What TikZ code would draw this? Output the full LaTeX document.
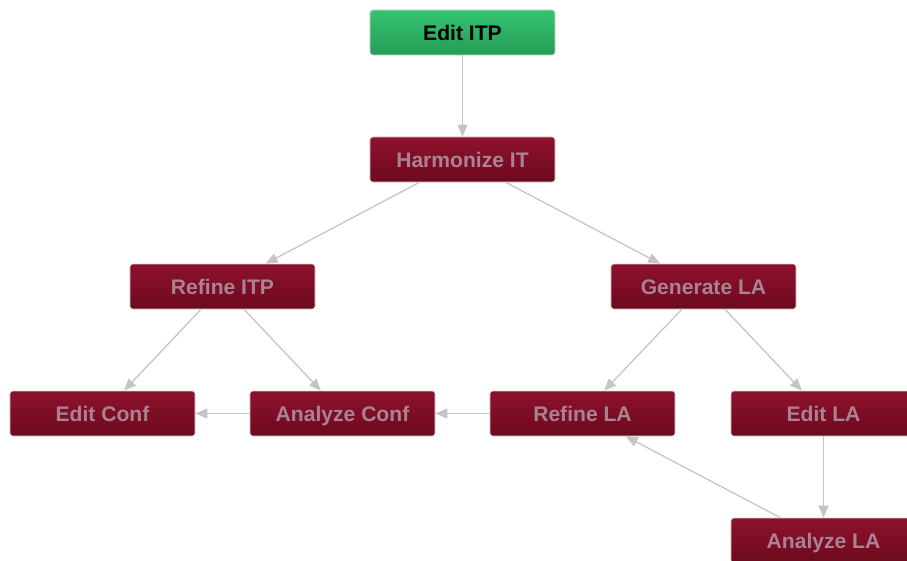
\documentclass[tikz,border=0pt]{standalone}
\usepackage{fontspec}
\setmainfont{Liberation Sans}
\usepackage{tikz}
\usetikzlibrary{arrows.meta}
\definecolor{greentop}{RGB}{52, 196, 112}
\definecolor{greenbot}{RGB}{37, 156, 86}
\definecolor{redtop}{RGB}{142, 17, 44}
\definecolor{redbot}{RGB}{108, 10, 30}
\definecolor{redtext}{RGB}{170, 130, 146}
\definecolor{edge}{RGB}{196, 196, 196}
\definecolor{rim}{RGB}{215, 215, 215}

\begin{document}
\begin{tikzpicture}[x=0.025cm, y=-0.025cm,
    task/.style={draw=rim, line width=0.5, rounded corners=2,
      minimum width=4.625cm, minimum height=1.125cm, inner sep=0,
      text height=11pt, text depth=0pt,
      font=\bfseries\fontsize{15}{18}\selectfont},
    start/.style={task, top color=greentop, bottom color=greenbot, text=black},
    step task/.style={task, top color=redtop, bottom color=redbot, text=redtext},
    flow/.style={draw=edge, line width=0.9,
      -{Triangle[length=8.5pt, width=7pt, fill=edge]}}]
  \path[use as bounding box, clip] (0, 0) rectangle (907, 560);

  \node[start] (editITP) at (462.5, 32.5) {Edit ITP};
  \node[step task] (harmonizeIT) at (462.5, 159.5) {Harmonize IT};
  \node[step task] (refineITP) at (222.5, 286.5) {Refine ITP};
  \node[step task] (generateLA) at (703.5, 286.5) {Generate LA};
  \node[step task] (editConf) at (102.5, 413.5) {Edit Conf};
  \node[step task] (analyzeConf) at (342.5, 413.5) {Analyze Conf};
  \node[step task] (refineLA) at (582.5, 413.5) {Refine LA};
  \node[step task] (editLA) at (823.5, 413.5) {Edit LA};
  \node[step task] (analyzeLA) at (823.5, 540.5) {Analyze LA};

  \draw[flow] (editITP) -- (harmonizeIT);
  \draw[flow] (harmonizeIT) -- (refineITP);
  \draw[flow] (harmonizeIT) -- (generateLA);
  \draw[flow] (refineITP) -- (editConf);
  \draw[flow] (refineITP) -- (analyzeConf);
  \draw[flow] (generateLA) -- (refineLA);
  \draw[flow] (generateLA) -- (editLA);
  \draw[flow] (analyzeConf) -- (editConf);
  \draw[flow] (refineLA) -- (analyzeConf);
  \draw[flow] (editLA) -- (analyzeLA);
  \draw[flow] (analyzeLA) -- (refineLA);
\end{tikzpicture}
\end{document}
